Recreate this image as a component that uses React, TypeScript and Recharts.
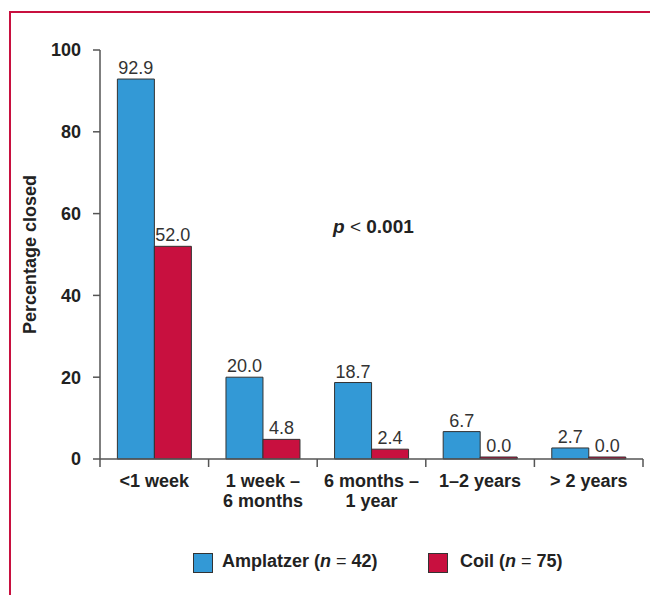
import React from 'react';
import { BarChart, Bar, XAxis, YAxis, LabelList, Legend } from 'recharts';

// Time to complete closure, by device
const categories = ['<1 week', '1 week –\n6 months', '6 months –\n1 year', '1–2 years', '> 2 years'];
const amplatzer = [92.9, 20.0, 18.7, 6.7, 2.7];
const coil = [52.0, 4.8, 2.4, 0.0, 0.0];
const yTicks = [0, 20, 40, 60, 80, 100];

const BLUE = '#3399d6';
const RED = '#c8103f';
const FONT = '"Liberation Sans", Arial, Helvetica, sans-serif';
const NARROW = '"Liberation Sans Narrow", "Liberation Sans", Arial, sans-serif';

const data = categories.map((name, i) => ({ name, amplatzer: amplatzer[i], coil: coil[i] }));

const CategoryTick = (props: any) => {
  const { x, y, payload, index } = props;
  const half = payload && payload.offset ? payload.offset : 54.3;
  const axisY = y - 12;
  const lines = String(payload.value).split('\n');
  return (
    <g>
      <line x1={x - half} x2={x - half} y1={axisY} y2={axisY + 8} stroke="#555" strokeWidth={1.5} />
      {index === categories.length - 1 && (
        <line x1={x + half} x2={x + half} y1={axisY} y2={axisY + 8} stroke="#555" strokeWidth={1.5} />
      )}
      <text x={x} y={y + 16} textAnchor="middle" fontFamily={FONT} fontWeight="bold" fontSize={18} fill="#222">
        {lines.map((l, i) => (
          <tspan key={i} x={x} dy={i === 0 ? 0 : 20}>{l}</tspan>
        ))}
      </text>
    </g>
  );
};

const LegendBox = () => (
  <div style={{ position: 'relative', height: 40, fontFamily: FONT, fontWeight: 'bold', fontSize: 18, color: '#222' }}>
    <div style={{ position: 'absolute', left: 173, top: 11, width: 18, height: 18, background: BLUE, border: '1px solid #333' }} />
    <div style={{ position: 'absolute', left: 202, top: 9 }}>
      Amplatzer (<i>n</i> <span style={{ fontWeight: 'normal' }}>=</span> 42)
    </div>
    <div style={{ position: 'absolute', left: 408, top: 11, width: 18, height: 18, background: RED, border: '1px solid #333' }} />
    <div style={{ position: 'absolute', left: 440, top: 9 }}>
      Coil (<i>n</i> <span style={{ fontWeight: 'normal' }}>=</span> 75)
    </div>
  </div>
);

const valueLabelStyle = { fontFamily: NARROW, fontSize: 18, fill: '#333' };

export default function App() {
  return (
    <div style={{ position: 'absolute', left: 0, top: 0, width: 650, height: 595, background: '#fff' }}>
      <div style={{ position: 'absolute', left: 9, top: 11, right: 0, bottom: 0, borderTop: `2px solid ${RED}`, borderLeft: `2px solid ${RED}` }} />
      <BarChart
        width={650}
        height={595}
        data={data}
        margin={{ top: 50, right: 7, left: 20, bottom: 13 }}
        barCategoryGap="16%"
        barGap={0}
      >
        <XAxis
          dataKey="name"
          interval={0}
          tickLine={false}
          tickSize={8}
          tickMargin={4}
          height={83}
          axisLine={{ stroke: '#555', strokeWidth: 1.5 }}
          tick={<CategoryTick />}
        />
        <YAxis
          domain={[0, 100]}
          ticks={yTicks}
          width={80}
          tickSize={7}
          tickMargin={12}
          axisLine={{ stroke: '#555', strokeWidth: 1.5 }}
          tickLine={{ stroke: '#555', strokeWidth: 1.5 }}
          tick={{ fontFamily: FONT, fontWeight: 'bold', fontSize: 18, fill: '#222' }}
          label={{
            content: (p: any) => {
              const vb = p.viewBox || { x: 20, y: 50, height: 409 };
              const cx = 30;
              const cy = vb.y + vb.height / 2;
              return (
                <text x={cx} y={cy} transform={`rotate(-90 ${cx} ${cy})`} textAnchor="middle" dominantBaseline="central"
                  fontFamily={FONT} fontWeight="bold" fontSize={18} fill="#222">
                  Percentage closed
                </text>
              );
            },
          }}
        />
        <Legend verticalAlign="bottom" content={<LegendBox />} />
        <Bar dataKey="amplatzer" fill={BLUE} stroke="#333" strokeWidth={1} minPointSize={2} isAnimationActive={false}>
          <LabelList dataKey="amplatzer" position="top" offset={5} formatter={(v: any) => Number(v).toFixed(1)}
            style={valueLabelStyle} />
        </Bar>
        <Bar dataKey="coil" fill={RED} stroke="#333" strokeWidth={1} minPointSize={2} isAnimationActive={false}>
          <LabelList dataKey="coil" position="top" offset={5} formatter={(v: any) => Number(v).toFixed(1)}
            style={valueLabelStyle} />
        </Bar>
      </BarChart>
      <div style={{ position: 'absolute', left: 333, top: 216, fontFamily: FONT, fontSize: 19, color: '#222' }}>
        <b><i>p</i></b> &lt; <b>0.001</b>
      </div>
    </div>
  );
}
